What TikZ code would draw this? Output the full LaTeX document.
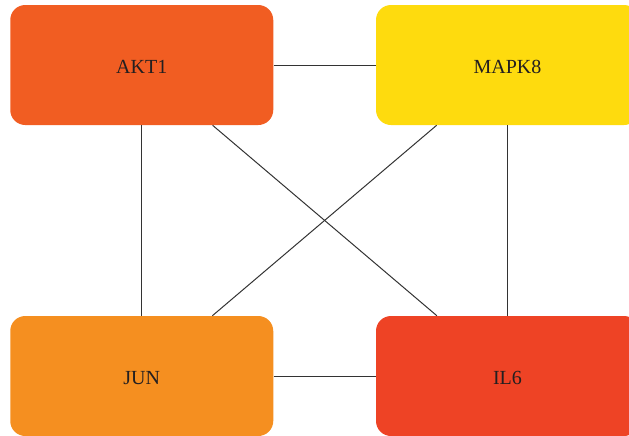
\documentclass[tikz,border=0pt]{standalone}
\usepackage{fontspec}
\setmainfont{Liberation Serif}
\definecolor{aktc}{HTML}{F15D22}
\definecolor{mapkc}{HTML}{FEDB0E}
\definecolor{junc}{HTML}{F58F20}
\definecolor{ilc}{HTML}{EE4325}
\definecolor{inkc}{HTML}{231F20}
\definecolor{edgec}{HTML}{333333}
\begin{document}
\begin{tikzpicture}[x=0.75pt,y=-0.75pt,
  gene/.style={rectangle, rounded corners=11.25pt, draw=none, inner sep=0pt,
    minimum width=197.25pt, minimum height=90pt, text=inkc,
    text height=13pt, text depth=0pt,
    font=\fontsize{15pt}{18pt}\selectfont},
  link/.style={draw=edgec, line width=0.75pt}]
  \useasboundingbox (0,0) rectangle (629,436);
  % gene boxes
  \node[gene, fill=aktc]  (akt1)  at (141.75,65)  {AKT1};
  \node[gene, fill=mapkc] (mapk8) at (507.5,65)   {MAPK8};
  \node[gene, fill=junc]  (jun)   at (141.75,376) {JUN};
  \node[gene, fill=ilc]   (il6)   at (507.5,376)  {IL6};
  % interactions
  \draw[link] (akt1) -- (mapk8);
  \draw[link] (jun) -- (il6);
  \draw[link] (akt1) -- (jun);
  \draw[link] (mapk8) -- (il6);
  \draw[link] (akt1) -- (il6);
  \draw[link] (mapk8) -- (jun);
\end{tikzpicture}
\end{document}
